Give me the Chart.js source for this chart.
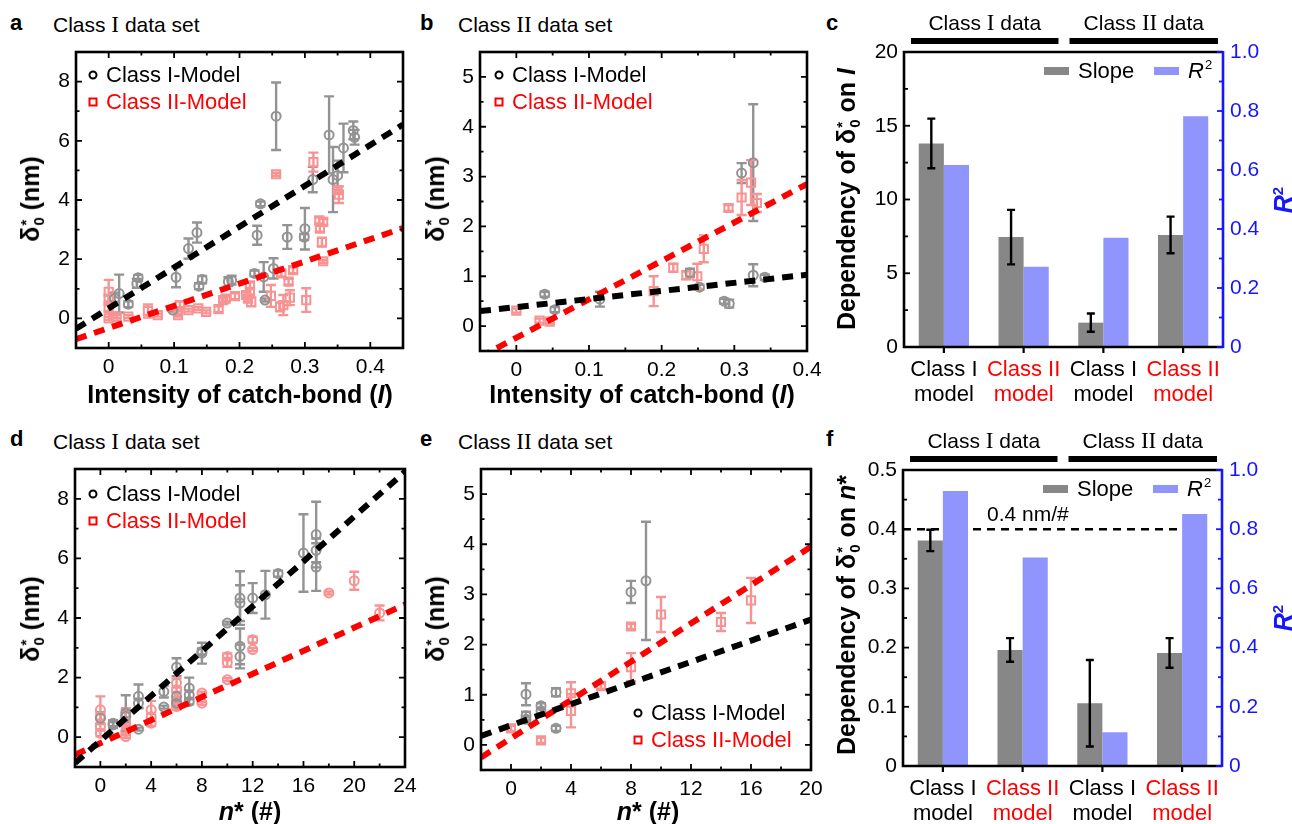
<!DOCTYPE html>
<html>
<head>
<meta charset="utf-8">
<script src="https://cdn.jsdelivr.net/npm/chart.js@4.4.1/dist/chart.umd.min.js"></script>
<style>
body { margin:0; background:#fff; width:1292px; height:824px; position:relative; overflow:hidden; font-family: Arial, "Liberation Sans", sans-serif; }
canvas { position:absolute; }
.t { position:absolute; white-space:nowrap; line-height:1; color:#000; z-index:2; }
.lab { font-size:22px; font-weight:bold; }
.ttl { font-size:21px; }
.rn { font-family: "Liberation Serif", "Times New Roman", serif; font-size:110%; }
.ax { font-size:25px; font-weight:bold; }
.rot { transform: translate(-50%,-50%) rotate(-90deg); }
.cx { transform: translateX(-50%); }
sub, sup { font-size:60%; }
.stk { display:inline-block; vertical-align:middle; line-height:0.9; font-size:60%; text-align:left; margin-left:1px; }
</style>
</head>
<body>
<canvas id="pa" width="420" height="380" style="left:0;top:40px"></canvas>
<canvas id="pb" width="410" height="380" style="left:420px;top:40px"></canvas>
<canvas id="pc" width="452" height="420" style="left:840px;top:0"></canvas>
<canvas id="pd" width="420" height="366" style="left:0;top:458px"></canvas>
<canvas id="pe" width="410" height="366" style="left:420px;top:458px"></canvas>
<canvas id="pf" width="452" height="404" style="left:840px;top:420px"></canvas>

<div class="t lab" style="left:10px;top:12px">a</div>
<div class="t ttl" style="left:53px;top:13px">Class <span class="rn">I</span> data set</div>
<div class="t lab" style="left:420px;top:12px">b</div>
<div class="t ttl" style="left:458px;top:13px">Class <span class="rn">II</span> data set</div>
<div class="t lab" style="left:826px;top:12px">c</div>
<div class="t lab" style="left:10px;top:428px">d</div>
<div class="t ttl" style="left:53px;top:430px">Class <span class="rn">I</span> data set</div>
<div class="t lab" style="left:420px;top:428px">e</div>
<div class="t ttl" style="left:458px;top:430px">Class <span class="rn">II</span> data set</div>
<div class="t lab" style="left:826px;top:428px">f</div>

<div class="t ax rot" style="left:32px;top:199px">δ<span class="stk">*<br>0</span> (nm)</div>
<div class="t ax rot" style="left:437px;top:199px">δ<span class="stk">*<br>0</span> (nm)</div>
<div class="t ax rot" style="left:32px;top:619px">δ<span class="stk">*<br>0</span> (nm)</div>
<div class="t ax rot" style="left:437px;top:619px">δ<span class="stk">*<br>0</span> (nm)</div>
<div class="t ax rot" style="left:848px;top:199px">Dependency of δ<span class="stk">*<br>0</span> on <i>I</i></div>
<div class="t ax rot" style="left:848px;top:615px">Dependency of δ<span class="stk">*<br>0</span> on <i>n</i>*</div>
<div class="t ax rot" style="left:1283px;top:200px;color:#1515ff"><i>R</i><sup>2</sup></div>
<div class="t ax rot" style="left:1283px;top:618px;color:#1515ff"><i>R</i><sup>2</sup></div>

<div class="t ax cx" style="left:240px;top:382px">Intensity of catch-bond (<i>I</i>)</div>
<div class="t ax cx" style="left:642px;top:382px">Intensity of catch-bond (<i>I</i>)</div>
<div class="t ax cx" style="left:250px;top:799px"><i>n</i>* (#)</div>
<div class="t ax cx" style="left:648px;top:799px"><i>n</i>* (#)</div>

<script>
// PANEL A : Class I data set vs intensity of catch-bond
const aIx = [0.256,0.337,0.359,0.374,0.376,0.312,0.343,0.350,0.232,0.135,0.122,0.227,0.273,0.300,0.299,0.103,0.045,0.043,0.016,0.009,0.030,0.138,0.143,0.183,0.188,0.223,0.237,0.239,0.252,0.098];
const aIy = [6.83,6.20,5.76,6.35,6.12,4.69,4.69,4.83,3.87,2.90,2.36,2.81,2.75,3.03,2.75,1.39,1.37,1.18,0.84,0.67,0.48,1.09,1.31,1.24,1.29,1.52,1.40,0.62,1.69,0.28];
const aIe = [1.14,1.30,0.82,0.30,0.25,0.43,1.10,0.50,0.08,0.34,0.34,0.32,0.40,0.70,0.10,0.34,0.10,0.15,0.64,0.20,0.10,0.10,0.12,0.15,0.15,0.10,0.50,0.05,0.34,0.05];
const aIIx = [0.256,0.313,0.352,0.350,0.322,0.328,0.323,0.326,0.328,0.282,0.275,0.264,0.277,0.267,0.262,0.302,0.248,0.216,0.216,0.213,0.218,0.210,0.193,0.179,0.175,0.168,0.149,0.137,0.122,0.109,0.106,0.106,0.075,0.060,0.030,0.000,0.000,0.000,0.000,0.007,0.012];
const aIIy = [4.87,5.28,4.18,4.33,3.31,3.26,3.03,2.58,1.93,1.63,1.24,1.52,0.70,0.45,0.39,0.62,0.76,1.12,0.90,0.67,0.56,0.79,0.75,0.67,0.62,0.31,0.22,0.34,0.28,0.45,0.11,0.25,0.11,0.25,0.06,0.90,0.67,0.35,0.00,0.06,0.06];
const aIIe = [0.05,0.32,0.28,0.10,0.10,0.10,0.10,0.15,0.05,0.10,0.10,0.10,0.25,0.34,0.15,0.40,0.37,0.10,0.10,0.10,0.15,0.10,0.10,0.08,0.08,0.10,0.05,0.05,0.05,0.12,0.05,0.10,0.05,0.22,0.05,0.40,0.10,0.10,0.05,0.05,0.05];
const aFitX = [-0.05, 0.45];
const aFitIy = [-0.35, 6.55];
const aFitIIy = [-0.70, 3.05];
const aXTicks = [0, 0.1, 0.2, 0.3, 0.4];
const aYTicks = [0, 2, 4, 6, 8];

// PANEL B : Class II data set vs intensity of catch-bond
const bIx = [0.039,0.053,0.115,0.239,0.252,0.286,0.293,0.310,0.326,0.326,0.342];
const bIy = [0.64,0.33,0.54,1.07,0.78,0.50,0.45,3.07,3.28,1.02,0.98];
const bIe = [0.05,0.05,0.15,0.08,0.05,0.05,0.08,0.20,1.17,0.22,0.05];
const bIIx = [0.000,0.032,0.046,0.189,0.216,0.234,0.249,0.258,0.292,0.310,0.323,0.331];
const bIIy = [0.31,0.11,0.09,0.70,1.17,1.02,1.00,1.55,2.37,2.58,2.88,2.47];
const bIIe = [0.04,0.04,0.04,0.30,0.08,0.08,0.25,0.27,0.06,0.35,0.45,0.18];
const bFitX = [-0.05, 0.40];
const bFitIy = [0.30, 1.03];
const bFitIIy = [-0.62, 2.85];
const bXTicks = [0, 0.1, 0.2, 0.3, 0.4];
const bYTicks = [0, 1, 2, 3, 4, 5];

// PANEL D : Class I data set vs n*
const dIx = [0,1,1,2,2,3,3,3,5,5,6,6,6,7,7,7,8,8,10,11,11,11,11,12,13,14,16,17,17,17];
const dIy = [0.64,0.41,0.47,0.81,0.70,1.37,1.14,0.27,1.53,1.01,2.35,1.37,1.14,1.65,1.42,1.20,2.82,2.88,3.83,4.67,4.50,3.05,2.71,4.67,4.78,5.49,6.18,6.80,6.27,5.71];
const dIe = [0.20,0.10,0.10,0.60,0.20,0.40,0.15,0.05,0.20,0.05,0.30,0.15,0.10,0.35,0.15,0.10,0.35,0.10,0.05,0.90,0.60,0.60,0.40,0.50,0.80,0.10,1.30,1.10,0.40,0.80];
const dIIx = [0,0,0,0,2,2,2,2,4,4,4,6,6,6,6,8,8,10,10,10,12,12,18,20,22];
const dIIy = [0.92,0.69,0.36,0.13,0.69,0.47,0.19,0.02,0.92,0.69,0.47,1.82,1.59,1.25,1.03,1.48,1.14,1.93,2.51,2.71,3.27,2.94,4.84,5.25,4.17];
const dIIe = [0.45,0.10,0.10,0.10,0.28,0.10,0.10,0.05,0.30,0.10,0.10,0.15,0.10,0.10,0.10,0.05,0.05,0.05,0.15,0.10,0.10,0.05,0.05,0.30,0.25];
const dFitX = [-2, 24];
const dFitIy = [-0.87, 8.91];
const dFitIIy = [-0.59, 4.45];
const dXTicks = [0, 4, 8, 12, 16, 20, 24];
const dYTicks = [0, 2, 4, 6, 8];

// PANEL E : Class II data set vs n*
const eIx = [1,1,1,2,2,3,3,8,9];
const eIy = [1.01,0.58,0.51,0.78,0.68,1.05,0.33,3.05,3.27];
const eIe = [0.22,0.08,0.05,0.05,0.05,0.08,0.05,0.22,1.18];
const eIIx = [0,2,4,4,6,8,8,10,14,16];
const eIIy = [0.33,0.09,1.03,0.68,1.17,2.36,1.55,2.60,2.45,2.88];
const eIIe = [0.05,0.05,0.22,0.33,0.05,0.05,0.28,0.35,0.18,0.45];
const eFitX = [-2, 20];
const eFitIy = [0.18, 2.50];
const eFitIIy = [-0.25, 3.95];
const eXTicks = [0, 4, 8, 12, 16, 20];
const eYTicks = [0, 1, 2, 3, 4, 5];

// PANELS C AND F : slopes and R2 of the fits
const models = [['Class I', 'model'], ['Class II', 'model'], ['Class I', 'model'], ['Class II', 'model']];
const cSlope = [13.8, 7.45, 1.65, 7.6];
const cSlopeErr = [1.68, 1.85, 0.62, 1.24];
const cR2 = [0.617, 0.272, 0.370, 0.782];
const cLeftTicks = [0, 5, 10, 15, 20];
const fSlope = [0.381, 0.196, 0.106, 0.191];
const fSlopeErr = [0.018, 0.020, 0.073, 0.025];
const fR2 = [0.929, 0.704, 0.114, 0.851];
const fLeftTicks = [0, 0.1, 0.2, 0.3, 0.4, 0.5];
const r2Ticks = [0, 0.2, 0.4, 0.6, 0.8, 1.0];
const fRefLine = 0.4;

const GRAY = '#939393';
const PINK = '#f79393';
const BAR_GRAY = '#878787';
const BAR_BLUE = '#8f95fc';
const BLUE = '#1515ff';
const FONT = 'Arial, "Liberation Sans", sans-serif';

function minorsOf(ticks, min, max) {
    const step = ticks[1] - ticks[0];
    const out = [];
    for (let k = -4; k <= ticks.length * 2 + 4; k++) {
        const v = ticks[0] + (k - 0.5) * step;
        if (v > min + 1e-9 && v < max - 1e-9) out.push(v);
    }
    return out;
}

function fmt(v) {
    return String(Number(v.toFixed(3)));
}

// error bars under the scatter points
const errBars = {
    id: 'errBars',
    beforeDatasetsDraw(chart) {
        const { ctx, chartArea: a, scales: { x, y } } = chart;
        ctx.save();
        ctx.beginPath();
        ctx.rect(a.left, a.top, a.right - a.left, a.bottom - a.top);
        ctx.clip();
        chart.data.datasets.forEach(ds => {
            if (!ds.err) return;
            ctx.strokeStyle = ds.borderColor;
            ctx.lineWidth = 2.4;
            ds.data.forEach((p, i) => {
                const e = ds.err[i];
                if (!e) return;
                const px = x.getPixelForValue(p.x);
                const y1 = y.getPixelForValue(p.y + e);
                const y2 = y.getPixelForValue(p.y - e);
                ctx.beginPath();
                ctx.moveTo(px, y1); ctx.lineTo(px, y2);
                ctx.moveTo(px - 5, y1); ctx.lineTo(px + 5, y1);
                ctx.moveTo(px - 5, y2); ctx.lineTo(px + 5, y2);
                ctx.stroke();
            });
        });
        ctx.restore();
    }
};

// box with inward ticks on four sides + legend inside
const frame = {
    id: 'frame',
    afterDraw(chart, args, o) {
        const { ctx, chartArea: a, scales: { x, y } } = chart;
        ctx.save();
        ctx.strokeStyle = '#000';
        ctx.lineWidth = 1.8;
        const xt = o.xTicks, yt = o.yTicks;
        const tick = (v, len, horiz) => {
            ctx.beginPath();
            if (horiz) {
                const p = x.getPixelForValue(v);
                ctx.moveTo(p, a.bottom); ctx.lineTo(p, a.bottom - len);
                ctx.moveTo(p, a.top); ctx.lineTo(p, a.top + len);
            } else {
                const p = y.getPixelForValue(v);
                ctx.moveTo(a.left, p); ctx.lineTo(a.left + len, p);
                ctx.moveTo(a.right, p); ctx.lineTo(a.right - len, p);
            }
            ctx.stroke();
        };
        xt.forEach(v => tick(v, 6, true));
        minorsOf(xt, x.min, x.max).forEach(v => tick(v, 3.5, true));
        yt.forEach(v => tick(v, 6, false));
        minorsOf(yt, y.min, y.max).forEach(v => tick(v, 3.5, false));
        ctx.lineWidth = 2.6;
        ctx.strokeRect(a.left, a.top, a.right - a.left, a.bottom - a.top);

        // legend
        const L = o.legend;
        const lx = a.left + L.dx;
        const ly = L.bottom ? a.bottom - L.dy : a.top + L.dy;
        ctx.font = '22px ' + FONT;
        ctx.textBaseline = 'middle';
        ctx.lineWidth = 2;
        ctx.strokeStyle = '#000';
        ctx.beginPath(); ctx.arc(lx, ly, 3.5, 0, Math.PI * 2); ctx.stroke();
        ctx.fillStyle = '#000';
        ctx.fillText('Class I-Model', lx + 13, ly + 1);
        ctx.strokeStyle = '#ff0000';
        ctx.strokeRect(lx - 3.5, ly + 27 - 3.5, 7, 7);
        ctx.fillStyle = '#ff0000';
        ctx.fillText('Class II-Model', lx + 13, ly + 28);
        ctx.restore();
    }
};

function pointSet(xs, ys, es, color, style) {
    return {
        data: xs.map((v, i) => ({ x: v, y: ys[i] })),
        err: es,
        pointStyle: style,
        pointRadius: style === 'rect' ? 5.8 : 4.5,
        borderColor: color,
        backgroundColor: 'rgba(255,255,255,0)',
        borderWidth: 2,
        showLine: false
    };
}

function fitSet(xs, ys, color) {
    return {
        data: xs.map((v, i) => ({ x: v, y: ys[i] })),
        showLine: true,
        borderColor: color,
        borderWidth: 6,
        borderDash: [11, 8],
        pointRadius: 0
    };
}

function scatterPanel(id, p) {
    const tickFont = { size: 21, family: FONT };
    new Chart(document.getElementById(id), {
        type: 'scatter',
        data: {
            datasets: [
                fitSet(p.fitX, p.fitIy, '#000000'),
                fitSet(p.fitX, p.fitIIy, '#ff0000'),
                pointSet(p.Ix, p.Iy, p.Ie, GRAY, 'circle'),
                pointSet(p.IIx, p.IIy, p.IIe, PINK, p.IIstyle)
            ]
        },
        options: {
            responsive: false,
            animation: false,
            events: [],
            layout: { padding: { top: p.padTop, right: p.padRight, left: 0, bottom: 0 } },
            plugins: { legend: { display: false }, tooltip: { enabled: false }, frame: { xTicks: p.xTicks, yTicks: p.yTicks, legend: p.legend } },
            scales: {
                x: {
                    type: 'linear', min: p.xMin, max: p.xMax,
                    grid: { display: false, drawTicks: false }, border: { display: false },
                    afterBuildTicks: s => { s.ticks = p.xTicks.map(v => ({ value: v })); },
                    afterFit: s => { s.height = p.xH; s.paddingLeft = 0; s.paddingRight = 0; },
                    ticks: { font: tickFont, color: '#000', padding: 7, maxRotation: 0, autoSkip: false, callback: v => fmt(v) }
                },
                y: {
                    type: 'linear', min: p.yMin, max: p.yMax,
                    grid: { display: false, drawTicks: false }, border: { display: false },
                    afterBuildTicks: s => { s.ticks = p.yTicks.map(v => ({ value: v })); },
                    afterFit: s => { s.width = p.yW; s.paddingTop = 0; s.paddingBottom = 0; },
                    ticks: { font: tickFont, color: '#000', padding: 6, autoSkip: false, callback: v => fmt(v) }
                }
            }
        },
        plugins: [errBars, frame]
    });
}

scatterPanel('pa', {
    Ix: aIx, Iy: aIy, Ie: aIe, IIx: aIIx, IIy: aIIy, IIe: aIIe, IIstyle: 'rect',
    fitX: aFitX, fitIy: aFitIy, fitIIy: aFitIIy, xTicks: aXTicks, yTicks: aYTicks,
    xMin: -0.05, xMax: 0.45, yMin: -1, yMax: 9,
    padTop: 12, padRight: 17, xH: 72, yW: 76,
    legend: { dx: 17, dy: 23 }
});
scatterPanel('pb', {
    Ix: bIx, Iy: bIy, Ie: bIe, IIx: bIIx, IIy: bIIy, IIe: bIIe, IIstyle: 'rect',
    fitX: bFitX, fitIy: bFitIy, fitIIy: bFitIIy, xTicks: bXTicks, yTicks: bYTicks,
    xMin: -0.05, xMax: 0.40, yMin: -0.5, yMax: 5.5,
    padTop: 12, padRight: 23, xH: 69, yW: 60,
    legend: { dx: 19, dy: 23 }
});
scatterPanel('pd', {
    Ix: dIx, Iy: dIy, Ie: dIe, IIx: dIIx, IIy: dIIy, IIe: dIIe, IIstyle: 'circle',
    fitX: dFitX, fitIy: dFitIy, fitIIy: dFitIIy, xTicks: dXTicks, yTicks: dYTicks,
    xMin: -2, xMax: 24, yMin: -1, yMax: 9,
    padTop: 11, padRight: 15, xH: 57, yW: 75,
    legend: { dx: 18, dy: 25 }
});
scatterPanel('pe', {
    Ix: eIx, Iy: eIy, Ie: eIe, IIx: eIIx, IIy: eIIy, IIe: eIIe, IIstyle: 'rect',
    fitX: eFitX, fitIy: eFitIy, fitIIy: eFitIIy, xTicks: eXTicks, yTicks: eYTicks,
    xMin: -2, xMax: 20, yMin: -0.5, yMax: 5.5,
    padTop: 11, padRight: 19, xH: 54, yW: 61,
    legend: { dx: 157, dy: 57, bottom: true }
});

// bar panels: headers, legend, reference line, error bars, axes box
const barDeco = {
    id: 'barDeco',
    beforeDatasetsDraw(chart, args, o) {
        if (o.refLine == null) return;
        const { ctx, chartArea: a, scales } = chart;
        const py = scales.y.getPixelForValue(o.refLine);
        const x3 = scales.x.getPixelForValue(3);
        ctx.save();
        ctx.strokeStyle = '#000';
        ctx.lineWidth = 2.5;
        ctx.setLineDash([8, 6]);
        ctx.beginPath(); ctx.moveTo(a.left, py); ctx.lineTo(x3, py); ctx.stroke();
        ctx.setLineDash([]);
        ctx.fillStyle = '#000';
        ctx.font = '21px ' + FONT;
        ctx.textBaseline = 'alphabetic';
        ctx.fillText('0.4 nm/#', a.left + 84, py - 8);
        ctx.restore();
    },
    afterDatasetsDraw(chart, args, o) {
        const { ctx, chartArea: a, scales } = chart;
        const y = scales.y, y2 = scales.y2, x = scales.x;
        ctx.save();
        // error bars
        const ds = chart.data.datasets[0];
        ctx.strokeStyle = '#000';
        ctx.lineWidth = 2.4;
        chart.getDatasetMeta(0).data.forEach((bar, i) => {
            const t = y.getPixelForValue(ds.data[i] + ds.err[i]);
            const b = y.getPixelForValue(ds.data[i] - ds.err[i]);
            ctx.beginPath();
            ctx.moveTo(bar.x, t); ctx.lineTo(bar.x, b);
            ctx.moveTo(bar.x - 4, t); ctx.lineTo(bar.x + 4, t);
            ctx.moveTo(bar.x - 4, b); ctx.lineTo(bar.x + 4, b);
            ctx.stroke();
        });

        // box: left/top/bottom black, right blue
        ctx.lineWidth = 2.6;
        ctx.strokeStyle = '#000';
        ctx.beginPath();
        ctx.moveTo(a.right, a.top); ctx.lineTo(a.left, a.top); ctx.lineTo(a.left, a.bottom); ctx.lineTo(a.right, a.bottom);
        ctx.stroke();
        ctx.lineWidth = 1.8;
        const lt = o.leftTicks;
        lt.forEach(v => { const p = y.getPixelForValue(v); ctx.beginPath(); ctx.moveTo(a.left, p); ctx.lineTo(a.left + 6, p); ctx.stroke(); });
        minorsOf(lt, y.min, y.max).forEach(v => { const p = y.getPixelForValue(v); ctx.beginPath(); ctx.moveTo(a.left, p); ctx.lineTo(a.left + 4, p); ctx.stroke(); });
        ctx.lineWidth = 2.2;
        models.forEach((m, i) => { const p = x.getPixelForValue(i); ctx.beginPath(); ctx.moveTo(p, a.bottom); ctx.lineTo(p, a.bottom + 6); ctx.stroke(); });
        ctx.strokeStyle = BLUE;
        ctx.lineWidth = 2.6;
        ctx.beginPath(); ctx.moveTo(a.right, a.top - 1); ctx.lineTo(a.right, a.bottom + 1); ctx.stroke();
        ctx.lineWidth = 1.8;
        r2Ticks.forEach(v => { const p = y2.getPixelForValue(v); ctx.beginPath(); ctx.moveTo(a.right, p); ctx.lineTo(a.right - 6, p); ctx.stroke(); });
        minorsOf(r2Ticks, y2.min, y2.max).forEach(v => { const p = y2.getPixelForValue(v); ctx.beginPath(); ctx.moveTo(a.right, p); ctx.lineTo(a.right - 4, p); ctx.stroke(); });

        // group headers above the plot
        const mid = (a.left + a.right) / 2;
        const groups = [['I', a.left + 7, mid - 5], ['II', mid + 6, a.right - 5]];
        ctx.fillStyle = '#000';
        ctx.textBaseline = 'alphabetic';
        groups.forEach(g => {
            ctx.fillRect(g[1], a.top - 14, g[2] - g[1], 6);
            const sans = '21px ' + FONT, serif = '23px "Liberation Serif", "Times New Roman", serif';
            const parts = [['Class ', sans], [g[0], serif], [' data', sans]];
            let w = 0;
            parts.forEach(pt => { ctx.font = pt[1]; w += ctx.measureText(pt[0]).width; });
            let cx = (g[1] + g[2]) / 2 - w / 2;
            parts.forEach(pt => { ctx.font = pt[1]; ctx.fillText(pt[0], cx, a.top - 22); cx += ctx.measureText(pt[0]).width; });
        });

        // legend
        ctx.textAlign = 'left';
        ctx.textBaseline = 'middle';
        ctx.font = '22px ' + FONT;
        const ly = a.top + 19;
        ctx.fillStyle = BAR_GRAY;
        ctx.fillRect(a.right - 179, ly - 4, 25, 8);
        ctx.fillStyle = '#000';
        ctx.fillText('Slope', a.right - 145, ly + 1);
        ctx.fillStyle = BAR_BLUE;
        ctx.fillRect(a.right - 69, ly - 4, 25, 8);
        ctx.fillStyle = '#000';
        ctx.font = 'italic 22px ' + FONT;
        ctx.fillText('R', a.right - 35, ly + 1);
        const rw = ctx.measureText('R').width;
        ctx.font = '13px ' + FONT;
        ctx.fillText('2', a.right - 35 + rw + 1, ly - 6);
        ctx.restore();
    }
};

function barPanel(id, p) {
    const tickFont = { size: 21, family: FONT };
    new Chart(document.getElementById(id), {
        type: 'bar',
        data: {
            labels: models,
            datasets: [
                { label: 'Slope', data: p.slope, err: p.err, yAxisID: 'y', backgroundColor: BAR_GRAY, categoryPercentage: 0.63, barPercentage: 1 },
                { label: 'R2', data: p.r2, yAxisID: 'y2', backgroundColor: BAR_BLUE, categoryPercentage: 0.63, barPercentage: 1 }
            ]
        },
        options: {
            responsive: false,
            animation: false,
            events: [],
            layout: { padding: { top: p.padTop, left: 0, right: 0, bottom: 0 } },
            plugins: { legend: { display: false }, tooltip: { enabled: false }, barDeco: { leftTicks: p.leftTicks, refLine: p.refLine } },
            scales: {
                x: {
                    grid: { display: false, drawTicks: false }, border: { display: false },
                    afterFit: s => { s.height = p.xH; s.paddingLeft = 0; s.paddingRight = 0; },
                    ticks: { font: { size: 22, family: FONT, lineHeight: 1.15 }, padding: 10, maxRotation: 0, autoSkip: false,
                        color: ctx => (ctx.index % 2 ? '#ff0000' : '#000000') }
                },
                y: {
                    position: 'left', min: 0, max: p.leftMax,
                    grid: { display: false, drawTicks: false }, border: { display: false },
                    afterBuildTicks: s => { s.ticks = p.leftTicks.map(v => ({ value: v })); },
                    afterFit: s => { s.width = p.yW; s.paddingTop = 0; s.paddingBottom = 0; },
                    ticks: { font: tickFont, color: '#000', padding: 6, autoSkip: false, callback: v => p.leftFmt(v) }
                },
                y2: {
                    position: 'right', min: 0, max: 1,
                    grid: { display: false, drawTicks: false }, border: { display: false },
                    afterBuildTicks: s => { s.ticks = r2Ticks.map(v => ({ value: v })); },
                    afterFit: s => { s.width = p.y2W; s.paddingTop = 0; s.paddingBottom = 0; },
                    ticks: { font: tickFont, color: BLUE, padding: 7, autoSkip: false, callback: v => (v === 0 ? '0' : v.toFixed(1)) }
                }
            }
        },
        plugins: [barDeco]
    });
}

barPanel('pc', {
    slope: cSlope, err: cSlopeErr, r2: cR2, leftTicks: cLeftTicks, leftMax: 20,
    leftFmt: v => String(v), refLine: null,
    padTop: 52, xH: 73, yW: 64, y2W: 69
});
barPanel('pf', {
    slope: fSlope, err: fSlopeErr, r2: fR2, leftTicks: fLeftTicks, leftMax: 0.5,
    leftFmt: v => (v === 0 ? '0' : v.toFixed(1)), refLine: fRefLine,
    padTop: 50, xH: 58, yW: 63, y2W: 70
});
</script>
</body>
</html>
